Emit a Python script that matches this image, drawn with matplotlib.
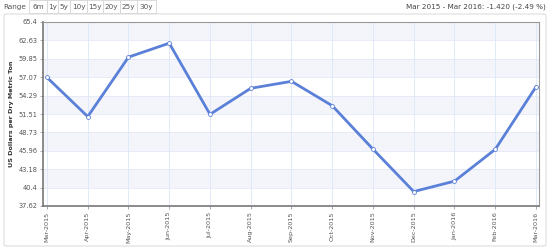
import matplotlib.pyplot as plt
from matplotlib.patches import FancyBboxPatch, Rectangle

months = ["Mar-2015", "Apr-2015", "May-2015", "Jun-2015", "Jul-2015", "Aug-2015",
          "Sep-2015", "Oct-2015", "Nov-2015", "Dec-2015", "Jan-2016", "Feb-2016", "Mar-2016"]
prices = [57.03, 51.12, 60.10, 62.20, 51.46, 55.39, 56.44, 52.76, 46.20, 39.80, 41.37, 46.17, 55.61]
y_ticks = [37.62, 40.4, 43.18, 45.96, 48.73, 51.51, 54.29, 57.07, 59.85, 62.63, 65.4]
range_buttons = ["6m", "1y", "5y", "10y", "15y", "20y", "25y", "30y"]

W, H = 550, 249
fig = plt.figure(figsize=(W / 100, H / 100), dpi=100)

# outer frame
fig.patches.append(FancyBboxPatch((4 / W, 3 / H), 542 / W, 232 / H,
                                  boxstyle="round,pad=0,rounding_size=0.006",
                                  transform=fig.transFigure, fill=False,
                                  edgecolor="#dddddd", linewidth=0.8))

# range selector
fig.text(3 / W, 1 - 7 / H, "Range", fontsize=5.2, color="#555555", va="center")
btn_x = [29, 47, 58, 70, 87, 103, 120, 137, 156]
for i, lab in enumerate(range_buttons):
    x0, x1 = btn_x[i], btn_x[i + 1]
    fig.patches.append(Rectangle((x0 / W, 1 - 13 / H), (x1 - x0) / W, 12.5 / H,
                                 transform=fig.transFigure, facecolor="white",
                                 edgecolor="#d4d4d4", linewidth=0.6))
    fig.text((x0 + x1) / 2 / W, 1 - 7 / H, lab, fontsize=5.2, color="#555555",
             ha="center", va="center")
fig.text(546 / W, 1 - 7 / H, "Mar 2015 - Mar 2016: -1.420 (-2.49 %)",
         fontsize=5.2, color="#444444", ha="right", va="center")

ax = fig.add_axes([43 / W, 1 - 206 / H, 496 / W, 184 / H])
x = list(range(len(months)))

# alternating bands
for i in range(len(y_ticks) - 1):
    if (len(y_ticks) - 2 - i) % 2 == 0:
        ax.axhspan(y_ticks[i], y_ticks[i + 1], color="#f3f5fb", zorder=0, lw=0)
for yt in y_ticks:
    ax.axhline(yt, color="#e3e9f7", lw=0.6, zorder=1)
for xi in x:
    ax.axvline(xi, color="#dde7fa", lw=0.6, zorder=1)

ax.plot(x, prices, color="#5b80d8", lw=2.0, zorder=3, solid_joinstyle="miter")
ax.plot(x, prices, ls="none", marker="o", ms=2.8, mfc="white", mec="#5b80d8",
        mew=0.6, zorder=4)

ax.set_xlim(-0.098, 12.074)
ax.set_ylim(37.62, 65.4)
ax.set_xticks(x)
ax.set_xticklabels(months, rotation=90, fontsize=4.6, color="#555555")
ax.set_yticks(y_ticks)
ax.set_yticklabels([f"{v:g}" for v in y_ticks], fontsize=4.8, color="#555555")
ax.tick_params(axis="both", length=2, width=0.5, color="#888888", pad=2)
ax.set_ylabel("US Dollars per Dry Metric Ton", fontsize=4.6, fontweight="bold",
              color="#333333", labelpad=3)
for side, sp in ax.spines.items():
    sp.set_color("#999999")
    sp.set_linewidth(0.8)
ax.spines["left"].set_color("#777777")
ax.spines["left"].set_linewidth(1.2)
ax.spines["bottom"].set_color("#777777")
ax.spines["bottom"].set_linewidth(1.2)

fig.savefig("out.png", dpi=100)
